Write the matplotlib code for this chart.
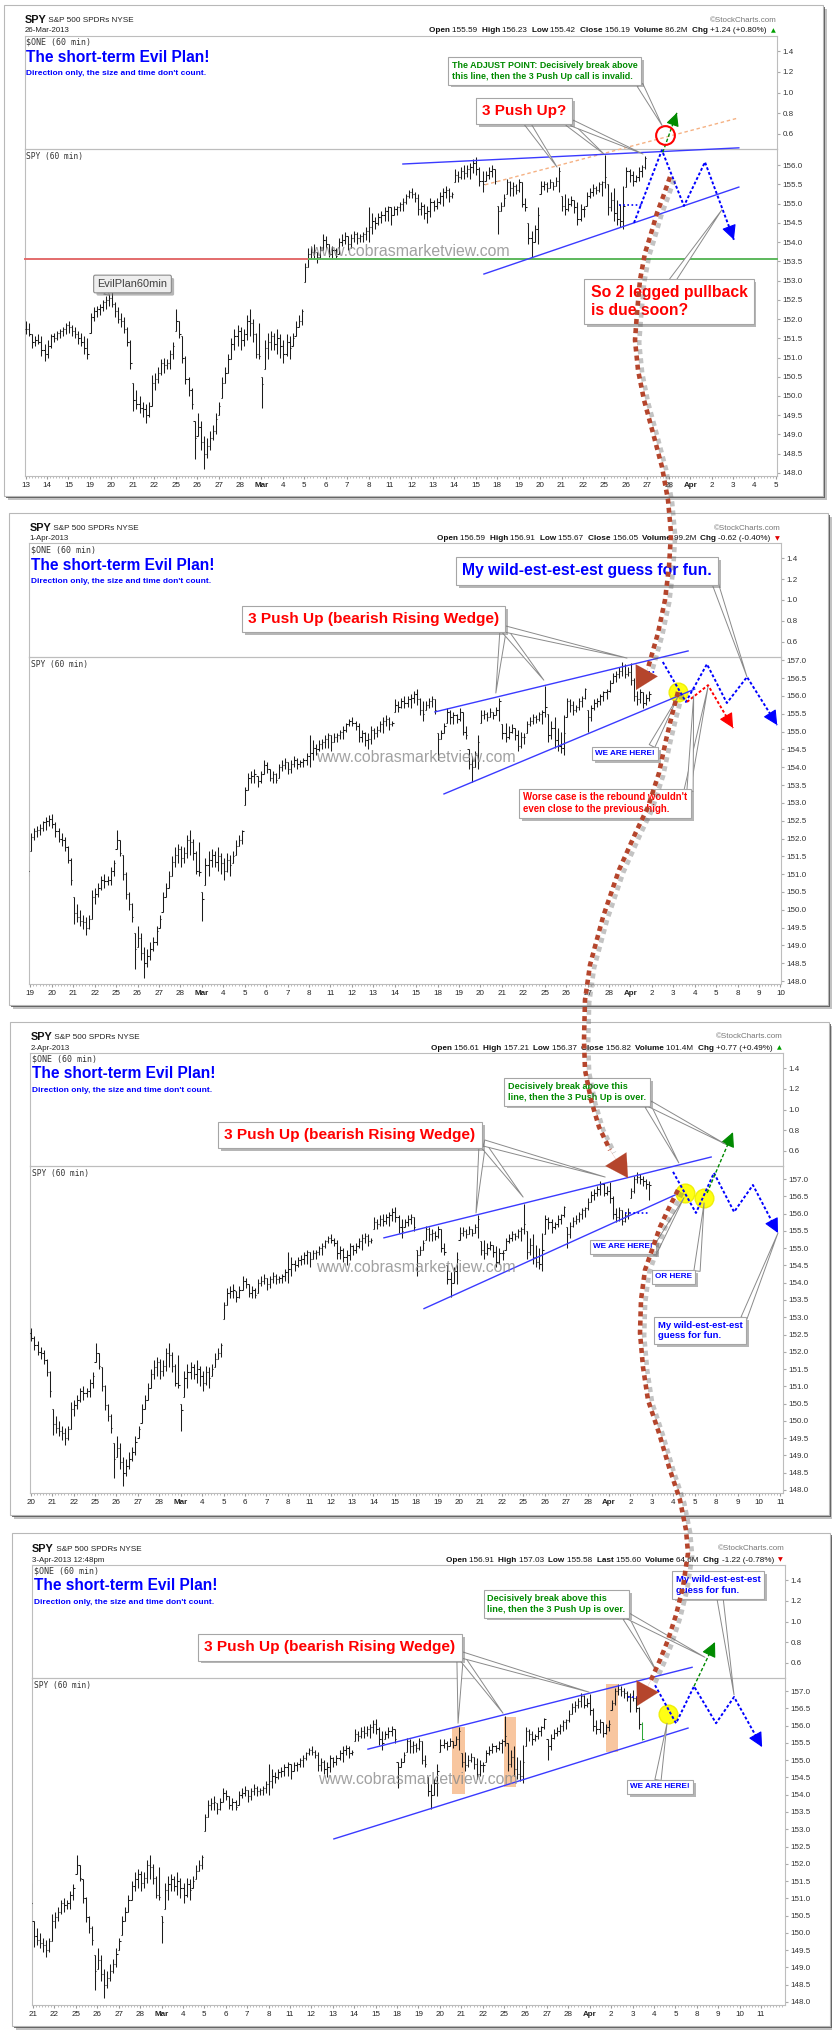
import numpy as np
import matplotlib.pyplot as plt
import matplotlib.patheffects as pe
from matplotlib.patches import Rectangle

W, H = 832, 2041
SANS = 'Liberation Sans'
MONO = 'DejaVu Sans Mono'

# trading days on the x axis, Feb 13 .. Apr 11 2013
day_names = ['13', '14', '15', '19', '20', '21', '22', '25', '26', '27', '28',
             'Mar', '4', '5', '6', '7', '8', '11', '12', '13', '14', '15',
             '18', '19', '20', '21', '22', '25', '26', '27', '28',
             'Apr', '2', '3', '4', '5', '8', '9', '10', '11']

# SPY 60 min bars, one row per trading day
bar_high = [
    [151.95, 151.90, 151.60, 151.55, 151.60, 151.55, 151.35],
    [151.45, 151.60, 151.65, 151.70, 151.75, 151.80, 151.90],
    [151.95, 151.85, 151.80, 151.70, 151.65, 151.55, 151.50],
    [152.15, 152.30, 152.35, 152.40, 152.50, 152.60, 152.65],
    [152.70, 152.45, 152.30, 152.15, 152.05, 151.80, 151.45],
    [150.35, 150.15, 150.00, 149.85, 149.80, 149.85, 150.55],
    [150.60, 150.75, 150.95, 151.00, 150.95, 151.20, 151.40],
    [152.25, 151.95, 151.55, 151.05, 150.50, 150.20, 149.35],
    [149.55, 149.35, 148.95, 148.90, 149.10, 149.25, 149.55],
    [149.85, 150.50, 150.75, 151.10, 151.50, 151.75, 151.85],
    [151.80, 151.75, 152.10, 152.25, 152.00, 151.65, 151.90],
    [150.50, 151.45, 151.65, 151.70, 151.65, 151.75, 151.60],
    [151.45, 151.60, 151.55, 151.65, 151.95, 152.10, 152.25],
    [153.45, 153.85, 153.90, 153.95, 153.75, 153.90, 154.20],
    [154.15, 153.95, 153.90, 153.85, 154.10, 154.20, 154.25],
    [154.15, 154.20, 154.30, 154.25, 154.20, 154.25, 154.40],
    [154.90, 154.75, 154.65, 154.75, 154.80, 154.90, 154.95],
    [154.90, 154.95, 154.95, 155.05, 155.15, 155.25, 155.35],
    [155.40, 155.30, 155.25, 155.05, 155.00, 154.95, 155.15],
    [155.10, 155.15, 155.30, 155.40, 155.45, 155.40, 155.30],
    [155.90, 155.85, 155.95, 156.00, 156.00, 156.05, 156.15],
    [156.20, 155.95, 155.85, 155.85, 155.95, 156.00, 155.90],
    [154.95, 155.05, 155.25, 155.65, 155.60, 155.55, 155.50],
    [155.65, 155.55, 155.15, 154.50, 154.30, 154.45, 154.90],
    [155.60, 155.60, 155.55, 155.65, 155.55, 155.70, 155.95],
    [155.20, 155.25, 155.15, 155.20, 155.10, 155.05, 155.00],
    [154.95, 155.30, 155.40, 155.50, 155.45, 155.55, 155.60],
    [156.27, 155.50, 155.30, 155.40, 155.10, 155.00, 155.45],
    [155.95, 155.90, 155.85, 155.75, 155.95, 156.00, 156.23],
    [155.60, 155.75, 155.90, 155.95, 156.05, 156.15, 156.20],
    [156.45, 156.65, 156.70, 156.80, 156.95, 156.90, 156.80],
    [156.91, 156.50, 156.15, 156.20, 156.10, 156.05, 156.15],
    [156.75, 157.10, 157.21, 157.15, 157.10, 157.00, 156.95],
    [157.03, 156.85, 156.55, 156.10],
]
bar_low = [
    [151.60, 151.55, 151.25, 151.30, 151.35, 151.05, 150.90],
    [151.00, 151.25, 151.40, 151.45, 151.50, 151.55, 151.60],
    [151.65, 151.55, 151.50, 151.35, 151.30, 151.10, 150.95],
    [151.65, 151.95, 152.05, 152.10, 152.20, 152.25, 152.35],
    [152.30, 152.05, 151.90, 151.80, 151.65, 151.30, 150.70],
    [149.60, 149.65, 149.55, 149.45, 149.30, 149.45, 149.75],
    [150.15, 150.35, 150.55, 150.60, 150.70, 150.70, 150.95],
    [151.70, 151.50, 150.85, 150.30, 150.00, 149.65, 148.35],
    [148.95, 148.60, 148.10, 148.40, 148.60, 148.85, 149.00],
    [149.50, 149.95, 150.35, 150.60, 150.95, 151.20, 151.30],
    [151.20, 151.30, 151.45, 151.55, 151.40, 151.00, 150.95],
    [149.70, 150.70, 150.95, 151.20, 151.20, 151.10, 151.00],
    [150.85, 151.05, 150.95, 151.30, 151.55, 151.80, 151.85],
    [152.95, 153.35, 153.55, 153.55, 153.45, 153.55, 153.80],
    [153.85, 153.60, 153.55, 153.55, 153.70, 153.90, 153.95],
    [153.80, 153.85, 154.00, 153.95, 154.00, 154.00, 154.05],
    [154.00, 154.20, 154.35, 154.45, 154.50, 154.55, 154.55],
    [154.45, 154.70, 154.70, 154.80, 154.80, 155.00, 155.15],
    [155.15, 155.05, 154.70, 154.70, 154.60, 154.50, 154.65],
    [154.80, 154.85, 155.00, 154.95, 155.15, 155.05, 155.15],
    [155.55, 155.55, 155.65, 155.65, 155.70, 155.65, 155.80],
    [155.75, 155.45, 155.30, 155.60, 155.65, 155.70, 155.50],
    [154.20, 154.80, 154.95, 155.25, 155.20, 155.20, 155.25],
    [155.30, 154.90, 154.80, 153.95, 153.58, 154.00, 153.95],
    [155.25, 155.35, 155.30, 155.40, 155.35, 155.45, 155.30],
    [154.80, 154.70, 154.80, 154.95, 154.75, 154.45, 154.55],
    [154.65, 154.95, 155.15, 155.20, 155.25, 155.30, 155.20],
    [155.40, 154.70, 154.80, 154.55, 154.45, 154.40, 154.35],
    [155.42, 155.55, 155.45, 155.55, 155.60, 155.70, 155.90],
    [155.00, 155.30, 155.60, 155.70, 155.75, 155.85, 155.90],
    [156.10, 156.35, 156.40, 156.50, 156.55, 156.50, 156.55],
    [156.30, 155.85, 155.75, 155.80, 155.67, 155.75, 155.85],
    [156.45, 156.60, 156.90, 156.85, 156.80, 156.70, 156.40],
    [156.70, 156.40, 155.90, 155.58],
]
bar_close = [
    [151.75, 151.60, 151.40, 151.45, 151.40, 151.20, 151.10],
    [151.30, 151.55, 151.50, 151.65, 151.70, 151.75, 151.85],
    [151.80, 151.70, 151.60, 151.50, 151.40, 151.25, 151.10],
    [152.05, 152.20, 152.25, 152.30, 152.45, 152.50, 152.55],
    [152.40, 152.20, 152.00, 151.95, 151.75, 151.40, 150.85],
    [149.90, 149.80, 149.70, 149.65, 149.50, 149.75, 150.35],
    [150.45, 150.60, 150.85, 150.80, 150.85, 151.10, 151.30],
    [151.95, 151.60, 151.00, 150.45, 150.15, 149.80, 148.90],
    [149.20, 148.80, 148.50, 148.70, 148.90, 149.10, 149.40],
    [149.75, 150.35, 150.60, 150.95, 151.35, 151.55, 151.70],
    [151.45, 151.60, 151.95, 151.90, 151.60, 151.10, 151.05],
    [150.30, 151.25, 151.40, 151.55, 151.35, 151.50, 151.30],
    [151.10, 151.40, 151.25, 151.50, 151.80, 151.95, 152.20],
    [153.35, 153.70, 153.75, 153.80, 153.60, 153.80, 154.05],
    [153.95, 153.70, 153.80, 153.65, 154.00, 154.05, 154.15],
    [153.95, 154.10, 154.20, 154.10, 154.15, 154.20, 154.30],
    [154.40, 154.55, 154.50, 154.65, 154.70, 154.80, 154.90],
    [154.70, 154.85, 154.90, 155.00, 155.05, 155.20, 155.30],
    [155.25, 155.15, 154.85, 154.95, 154.75, 154.80, 155.05],
    [154.95, 155.05, 155.20, 155.30, 155.35, 155.20, 155.25],
    [155.75, 155.70, 155.85, 155.80, 155.90, 155.95, 156.05],
    [155.90, 155.60, 155.50, 155.75, 155.85, 155.90, 155.60],
    [154.80, 154.95, 155.15, 155.55, 155.40, 155.45, 155.35],
    [155.55, 155.00, 154.90, 154.10, 154.00, 154.35, 154.70],
    [155.45, 155.50, 155.40, 155.55, 155.45, 155.60, 155.85],
    [154.95, 154.85, 155.00, 155.10, 154.90, 154.60, 154.85],
    [154.85, 155.20, 155.30, 155.40, 155.35, 155.50, 155.55],
    [155.70, 154.90, 155.10, 154.75, 154.60, 154.55, 154.95],
    [155.85, 155.75, 155.60, 155.70, 155.85, 155.95, 156.19],
    [155.40, 155.65, 155.80, 155.85, 156.00, 156.10, 156.15],
    [156.35, 156.55, 156.60, 156.70, 156.85, 156.60, 156.67],
    [156.45, 156.00, 155.90, 156.10, 155.80, 155.95, 156.05],
    [156.65, 157.00, 157.05, 157.00, 156.95, 156.85, 156.82],
    [156.80, 156.50, 156.05, 155.60],
]

# header of each snapshot
snap_dates = ['26-Mar-2013', '1-Apr-2013', '2-Apr-2013', '3-Apr-2013 12:48pm']
snap_quotes = [
    [('Open', '155.59'), ('High', '156.23'), ('Low', '155.42'), ('Close', '156.19'),
     ('Volume', '86.2M'), ('Chg', '+1.24 (+0.80%)')],
    [('Open', '156.59'), ('High', '156.91'), ('Low', '155.67'), ('Close', '156.05'),
     ('Volume', '99.2M'), ('Chg', '-0.62 (-0.40%)')],
    [('Open', '156.61'), ('High', '157.21'), ('Low', '156.37'), ('Close', '156.82'),
     ('Volume', '101.4M'), ('Chg', '+0.77 (+0.49%)')],
    [('Open', '156.91'), ('High', '157.03'), ('Low', '155.58'), ('Last', '155.60'),
     ('Volume', '64.6M'), ('Chg', '-1.22 (-0.78%)')],
]
snap_up = [True, False, True, False]
snap_days = [29, 32, 33, 34]  # trading days drawn in each snapshot

# page layout in pixels (x0, y0, x1, y1), y measured from the top
panels = [
    dict(frame=(4, 5, 823, 496), ind=(24.5, 36, 777, 149), price=(24.5, 149, 777, 476),
         xlim=(-0.05, 35.05), ylim=(147.92, 156.42), top=(24.5, 20, 31, 776, 777)),
    dict(frame=(9, 513, 828, 1005), ind=(29.3, 543, 781.3, 657), price=(29.3, 657, 781.3, 984),
         xlim=(2.95, 38.04), ylim=(147.92, 157.09), top=(29.3, 528, 539, 780, 781)),
    dict(frame=(10, 1022, 829, 1515), ind=(30.4, 1053, 782.9, 1166), price=(30.4, 1166, 782.9, 1493),
         xlim=(3.98, 39.12), ylim=(147.91, 157.38), top=(30.4, 1037, 1048, 782, 783)),
    dict(frame=(12, 1533, 830, 2026), ind=(32, 1565, 785, 1678), price=(32, 1678, 785, 2005),
         xlim=(4.95, 40.12), ylim=(147.91, 157.38), top=(32, 1549, 1560, 783, 785)),
]

BLUE, RED, GREEN = '#0000ff', '#ff0000', '#008a00'
BROWN = '#b5452c'

fig = plt.figure(figsize=(W / 100, H / 100), dpi=100, facecolor='white')


def px_axes(x0, y0, x1, y1, **kw):
    return fig.add_axes([x0 / W, 1 - y1 / H, (x1 - x0) / W, (y1 - y0) / H], **kw)


bg = fig.add_axes([0, 0, 1, 1], zorder=-1)
bg.set_xlim(0, W)
bg.set_ylim(H, 0)
bg.axis('off')
for cfg in panels:
    x0, y0, x1, y1 = cfg['frame']
    bg.add_patch(Rectangle((x0 + 4, y0 + 4), x1 - x0, y1 - y0, fc='#9a9a9a', ec='none', alpha=0.6))
    bg.add_patch(Rectangle((x0 + 2, y0 + 2), x1 - x0, y1 - y0, fc='#4a4a4a', ec='none', alpha=0.8))
    bg.add_patch(Rectangle((x0, y0), x1 - x0, y1 - y0, fc='white', ec='#b8b8b8', lw=0.8))

ov = fig.add_axes([0, 0, 1, 1], zorder=10)
ov.set_xlim(0, W)
ov.set_ylim(H, 0)
ov.axis('off')

pax = []
for k, cfg in enumerate(panels):
    iax = px_axes(*cfg['ind'], zorder=2)
    ax = px_axes(*cfg['price'], zorder=3)
    ax.set_facecolor('none')
    for a in (iax, ax):
        a.set_xlim(*cfg['xlim'])
        for s in a.spines.values():
            s.set_color('#bdbdbd')
            s.set_linewidth(0.8)
        a.yaxis.tick_right()
        a.tick_params(axis='y', length=2, pad=2, color='#aaaaaa', labelcolor='#333333',
                      labelsize=5.8, labelfontfamily=SANS)
    iax.set_ylim(0.455, 1.545)
    iax.set_yticks([0.6, 0.8, 1.0, 1.2, 1.4])
    iax.set_yticklabels(['%.1f' % v for v in [0.6, 0.8, 1.0, 1.2, 1.4]])
    iax.set_xticks([])

    lo, hi = cfg['ylim']
    ax.set_ylim(lo, hi)
    yt = np.arange(148.0, hi, 0.5)
    ax.set_yticks(yt)
    ax.set_yticklabels(['%.1f' % v for v in yt])
    d0 = max(0, int(np.ceil(cfg['xlim'][0])))
    d1 = min(len(day_names) - 1, int(np.floor(cfg['xlim'][1])))
    xt = list(range(d0, d1 + 1))
    ax.set_xticks(xt)
    ax.set_xticklabels([day_names[d] for d in xt])
    for lab in ax.get_xticklabels():
        if lab.get_text() in ('Mar', 'Apr'):
            lab.set_fontweight('bold')
    ax.set_xticks(np.arange(d0, cfg['xlim'][1], 1 / 7), minor=True)
    ax.tick_params(axis='x', which='major', length=2, pad=2, color='#999999',
                   labelsize=5.8, labelcolor='#222222', labelfontfamily=SANS)
    ax.tick_params(axis='x', which='minor', length=1.2, color='#b0b0b0')

    # OHLC bars
    xs, hs, ls, cs, os_ = [], [], [], [], []
    prev = bar_close[0][0]
    for d in range(snap_days[k]):
        for i in range(len(bar_high[d])):
            xs.append(d + (i + 0.2) / 7)
            hs.append(bar_high[d][i])
            ls.append(bar_low[d][i])
            cs.append(bar_close[d][i])
            os_.append(min(max(prev, bar_low[d][i]), bar_high[d][i]))
            prev = bar_close[d][i]
    xs = np.array(xs)
    cols = ['#1c1c1c'] * len(xs)
    if k == 3:
        cols[-1] = '#2fa83a'
    ax.vlines(xs, ls, hs, colors=cols, lw=0.75, zorder=3)
    ax.hlines(cs, xs, xs + 0.06, colors=cols, lw=0.75, zorder=3)
    ax.hlines(os_, xs - 0.06, xs, colors=cols, lw=0.75, zorder=3)
    pax.append(ax)

    # header
    xl, ys, yd, xr, xc = cfg['top']
    t = ov.text(xl, ys, 'SPY', fontsize=7.8, fontweight='bold', family=SANS,
                ha='left', va='center', color='#111111')
    ov.annotate(' S&P 500 SPDRs NYSE', xy=(1, 0.12), xycoords=t, fontsize=5.9,
                family=SANS, ha='left', va='bottom', color='#222222')
    ov.text(xl, yd, snap_dates[k], fontsize=5.7, family=SANS, ha='left', va='center',
            color='#222222')
    ov.text(xc, ys, '\u00a9StockCharts.com', fontsize=5.8, family=SANS, ha='right',
            va='center', color='#777777')
    pieces = []
    for lab, val in snap_quotes[k]:
        pieces += [(lab + ' ', 'bold'), (val + '  ', 'normal')]
    t = ov.text(xr, yd, '\u25b2' if snap_up[k] else '\u25bc', fontsize=4.5, ha='right',
                va='center', color='#00a000' if snap_up[k] else '#e00000', family='DejaVu Sans')
    for s, w in reversed(pieces):
        t = ov.annotate(s, xy=(0, 0.5), xycoords=t, ha='right', va='center',
                        fontsize=5.9, fontweight=w, family=SANS, color='#111111')
    ov.text(xl + 2, ys + 22, r'\$ONE (60 min)', fontsize=6, family=MONO,
            ha='left', va='center', color='#333333')
    ov.text(xl + 1.5, cfg['price'][1] + 7.5, 'SPY (60 min)', fontsize=5.7, family=MONO,
            ha='left', va='center', color='#333333')
    ov.text(xl + 1.5, ys + 37, 'The short-term Evil Plan!', fontsize=11.2, fontweight='bold',
            family=SANS, color=BLUE, ha='left', va='center')
    ov.text(xl + 1.5, ys + 53.5, "Direction only, the size and time don't count.", fontsize=6.0,
            fontweight='bold', family=SANS, color=BLUE, ha='left', va='center')


def box(x, y, s, color, size, ls=1.25, fc='white', ec='#a6a6a6', style='square,pad=0.4',
        weight='bold'):
    t = ov.text(x, y, s, color=color, fontsize=size, fontweight=weight, family=SANS,
                ha='center', va='center', multialignment='left', linespacing=ls, zorder=4,
                bbox=dict(boxstyle=style, fc=fc, ec=ec, lw=0.8))
    t.get_bbox_patch().set_path_effects(
        [pe.SimplePatchShadow(offset=(2, -2), shadow_rgbFace='#7a7a7a', alpha=0.55), pe.Normal()])
    return t


def callout(ax, base, tip):
    ov.annotate('', xy=tip, xycoords=ax.transData, xytext=base, textcoords='data',
                annotation_clip=False, zorder=3,
                arrowprops=dict(arrowstyle='wedge,tail_width=0.45,shrink_factor=0.5',
                                fc='white', ec='#8a8a8a', lw=0.7, shrinkA=0, shrinkB=0))


def watermark(x, y):
    ov.text(x, y, 'www.cobrasmarketview.com', fontsize=11.4, family=SANS, color='#8a8a8a',
            alpha=0.8, ha='center', va='center', zorder=2)


def line(ax, pts, color, lw=1.0, **kw):
    xs, ys = zip(*pts)
    ax.plot(xs, ys, color=color, lw=lw, clip_on=False, zorder=5, **kw)


def arrow_line(ax, pts, color, lw=1.4, head=8, dashes=(1.5, 1.1)):
    line(ax, pts, color, lw=lw, dashes=dashes)
    (x0, y0), (x1, y1) = pts[-2], pts[-1]
    ax.annotate('', xy=(x1, y1), xytext=(x0 + 0.85 * (x1 - x0), y0 + 0.85 * (y1 - y0)),
                annotation_clip=False, zorder=6,
                arrowprops=dict(arrowstyle='-|>,head_length=1.0,head_width=0.5', color=color,
                                lw=0.8, mutation_scale=head, shrinkA=0, shrinkB=0))


def yellow(ax, x, y):
    ax.plot(x, y, 'o', ms=13.5, mfc='#ffff00', mec='#eeee00', alpha=0.92, clip_on=False, zorder=4)


# ---- snapshot 1: 26 Mar ----
a = pax[0]
support_level = 153.55
line(a, [(-0.05, support_level), (13.2, support_level)], '#e36b6b', lw=1.4)
line(a, [(13.2, support_level), (35.05, support_level)], '#5cb85c', lw=1.4)
line(a, [(21.43, 155.49), (33.27, 157.23)], '#f5b183', lw=1.0, dashes=(2.5, 2))
line(a, [(17.6, 156.03), (33.27, 156.45)], '#3a3aff', lw=1.0)
line(a, [(21.38, 153.17), (33.27, 155.43)], '#3a3aff', lw=1.0)
line(a, [(27.68, 154.97), (28.75, 154.97)], BLUE, lw=1.2, dashes=(1, 1.5))
arrow_line(a, [(28.38, 154.50), (29.68, 156.39), (30.71, 154.94), (31.69, 156.08), (33.04, 154.06)],
           BLUE, head=9)
arrow_line(a, [(29.72, 156.33), (30.38, 157.36)], GREEN, lw=1.0, head=8, dashes=(2.5, 1.5))
a.plot(29.82, 156.78, 'o', ms=13.5, mfc='none', mec='#ff0000', mew=1.5, clip_on=False, zorder=6)
box(544.5, 71, 'The ADJUST POINT: Decisively break above\nthis line, then the 3 Push Up call is invalid.',
    GREEN, 6.4, ls=1.3)
box(524, 111, '3 Push Up?', RED, 11)
box(669, 301.5, 'So 2 legged pullback\nis due soon?', RED, 11.3, ls=1.2)
box(132.5, 284, 'EvilPlan60min', '#404040', 7.9, fc='#eeeeee', ec='#8a8a8a',
    style='round,pad=0.35,rounding_size=0.15', weight='normal')
callout(a, (527, 123), (24.79, 155.95))
callout(a, (568, 123), (26.98, 156.29))
callout(a, (572, 123), (28.80, 156.29))
callout(a, (640, 85), (29.70, 157.02))
callout(a, (672, 281), (32.48, 154.84))
callout(a, (106, 292), (3.9, 152.62))
watermark(410, 251)

# ---- snapshot 2: 1 Apr ----
a = pax[1]
line(a, [(21.88, 155.55), (33.69, 157.26)], '#3a3aff', lw=1.0)
line(a, [(22.30, 153.25), (34.0, 156.19)], '#3a3aff', lw=1.0)
line(a, [(31.45, 156.67), (32.20, 156.67)], BLUE, lw=1.2, dashes=(1, 1.5))
arrow_line(a, [(32.51, 156.95), (33.59, 155.83), (34.57, 156.89), (35.50, 155.80), (36.44, 156.53),
               (37.85, 155.18)], BLUE, head=9)
arrow_line(a, [(33.64, 155.83), (34.62, 156.30), (35.79, 155.10)], RED, head=9)
yellow(a, 33.22, 156.11)
box(587, 571, 'My wild-est-est-est guess for fun.', BLUE, 11.3)
box(373.5, 619, '3 Push Up (bearish Rising Wedge)', RED, 11.1)
box(625, 753.5, 'WE ARE HERE!', BLUE, 5.9)
box(605, 803.5, "Worse case is the rebound wouldn't\neven close to the previous high.", RED, 6.9,
    ls=1.25)
callout(a, (503, 631), (24.72, 156.08))
callout(a, (505, 631), (26.96, 156.44))
callout(a, (505, 629), (30.84, 157.06))
callout(a, (652, 746), (33.22, 155.98))
callout(a, (687, 791), (34.62, 156.25))
callout(a, (690, 791), (33.95, 156.0))
callout(a, (715, 583), (36.44, 156.53))
watermark(416, 758)

# ---- snapshot 3: 2 Apr ----
a = pax[2]
line(a, [(20.49, 155.30), (35.77, 157.64)], '#3a3aff', lw=1.0)
line(a, [(22.36, 153.25), (34.08, 156.54)], '#3a3aff', lw=1.0)
line(a, [(31.76, 156.02), (32.93, 156.02)], BLUE, lw=1.2, dashes=(1, 1.5))
arrow_line(a, [(33.99, 157.21), (35.06, 156.02), (35.90, 157.18), (36.84, 156.05), (37.72, 156.83),
               (38.89, 155.44)], BLUE, head=9)
arrow_line(a, [(35.58, 156.60), (36.79, 158.36)], GREEN, lw=1.0, head=9, dashes=(2.5, 1.5))
yellow(a, 34.55, 156.60)
yellow(a, 35.44, 156.46)
box(577, 1092, 'Decisively break above this\nline, then the 3 Push Up is over.', GREEN, 6.6, ls=1.3)
box(350, 1135, '3 Push Up (bearish Rising Wedge)', RED, 11.1)
box(623, 1247, 'WE ARE HERE!', BLUE, 5.9)
box(673.5, 1277, 'OR HERE', BLUE, 5.9)
box(700, 1330.5, 'My wild-est-est-est\nguess for fun.', BLUE, 6.8, ls=1.25)
callout(a, (482, 1147), (24.79, 156.02))
callout(a, (484, 1146), (26.99, 156.48))
callout(a, (484, 1143), (30.82, 157.06))
callout(a, (648, 1106), (34.26, 157.47))
callout(a, (650, 1104), (36.42, 158.02))
callout(a, (655, 1250), (34.50, 156.46))
callout(a, (697, 1271), (35.44, 156.31))
callout(a, (744, 1318), (38.89, 155.44))
watermark(416, 1268)

# ---- snapshot 4: 3 Apr ----
a = pax[3]
for x0, x1, y0, y1 in [(24.57, 25.18, 154.02, 155.96), (26.99, 27.55, 154.22, 156.25),
                       (31.76, 32.30, 155.24, 157.2)]:
    a.fill_between([x0, x1], y0, y1, color='#f7b887', alpha=0.8, lw=0, zorder=1)
line(a, [(20.64, 155.32), (35.78, 157.69)], '#3a3aff', lw=1.0)
line(a, [(19.05, 152.72), (35.59, 155.93)], '#3a3aff', lw=1.0)
line(a, [(32.78, 156.83), (33.58, 156.83)], BLUE, lw=1.2, dashes=(1, 1.5))
arrow_line(a, [(34.05, 157.17), (35.03, 156.07), (35.87, 157.14), (36.90, 156.07), (37.74, 156.83),
               (39.05, 155.38)], BLUE, head=9)
arrow_line(a, [(35.87, 157.14), (36.85, 158.42)], GREEN, lw=1.0, head=9, dashes=(2.5, 1.5))
yellow(a, 34.66, 156.33)
box(718, 1585, 'My wild-est-est-est\nguess for fun.', BLUE, 6.8, ls=1.25)
box(556.5, 1604, 'Decisively break above this\nline, then the 3 Push Up is over.', GREEN, 6.6, ls=1.3)
box(330, 1647.5, '3 Push Up (bearish Rising Wedge)', RED, 11.1)
box(660, 1787, 'WE ARE HERE!', BLUE, 5.9)
callout(a, (460, 1659), (24.85, 156.07))
callout(a, (462, 1658), (26.95, 156.36))
callout(a, (462, 1655), (30.97, 156.97))
callout(a, (626, 1618), (34.14, 157.55))
callout(a, (628, 1616), (36.38, 157.98))
callout(a, (720, 1598), (37.74, 156.89))
callout(a, (658, 1780), (34.61, 156.07))
watermark(418, 1780)

# ---- the big dotted path that links the snapshots ----
path_segments = [
    [(670, 177), (663, 197), (657, 213), (650, 237), (645, 253), (640, 280), (637, 313),
     (635, 340), (638, 370), (644, 400), (653, 433), (662, 467), (668, 500), (671, 533),
     (669, 567), (665, 600), (658, 633), (648, 668), (636, 690)],
    [(678, 692), (672, 715), (666, 740), (659, 773), (648, 807), (636, 832), (619, 870),
     (603, 917), (590, 965), (585, 1000), (584, 1040), (585, 1070), (591, 1100), (599, 1127),
     (610, 1150), (628, 1178)],
    [(678, 1190), (668, 1210), (660, 1227), (652, 1250), (645, 1270), (641, 1300), (640, 1333),
     (643, 1367), (648, 1400), (659, 1433), (669, 1467), (680, 1500), (686, 1530), (688, 1553),
     (683, 1587), (676, 1615), (668, 1640), (660, 1660), (651, 1680), (637, 1706)],
]
shadow = [pe.SimpleLineShadow(offset=(3, -2), shadow_color='#555555', alpha=0.35), pe.Normal()]
for seg in path_segments:
    xs, ys = zip(*seg[:-1])
    ov.plot(xs, ys, color=BROWN, lw=3.3, dashes=(1.1, 0.9), zorder=6, path_effects=shadow)
    ov.annotate('', xy=seg[-1], xytext=seg[-2], zorder=7, annotation_clip=False,
                arrowprops=dict(arrowstyle='-|>,head_length=0.8,head_width=0.45', color=BROWN,
                                lw=0.1, mutation_scale=20, shrinkA=0, shrinkB=0))

fig.savefig('out.png', dpi=100, facecolor='white')
